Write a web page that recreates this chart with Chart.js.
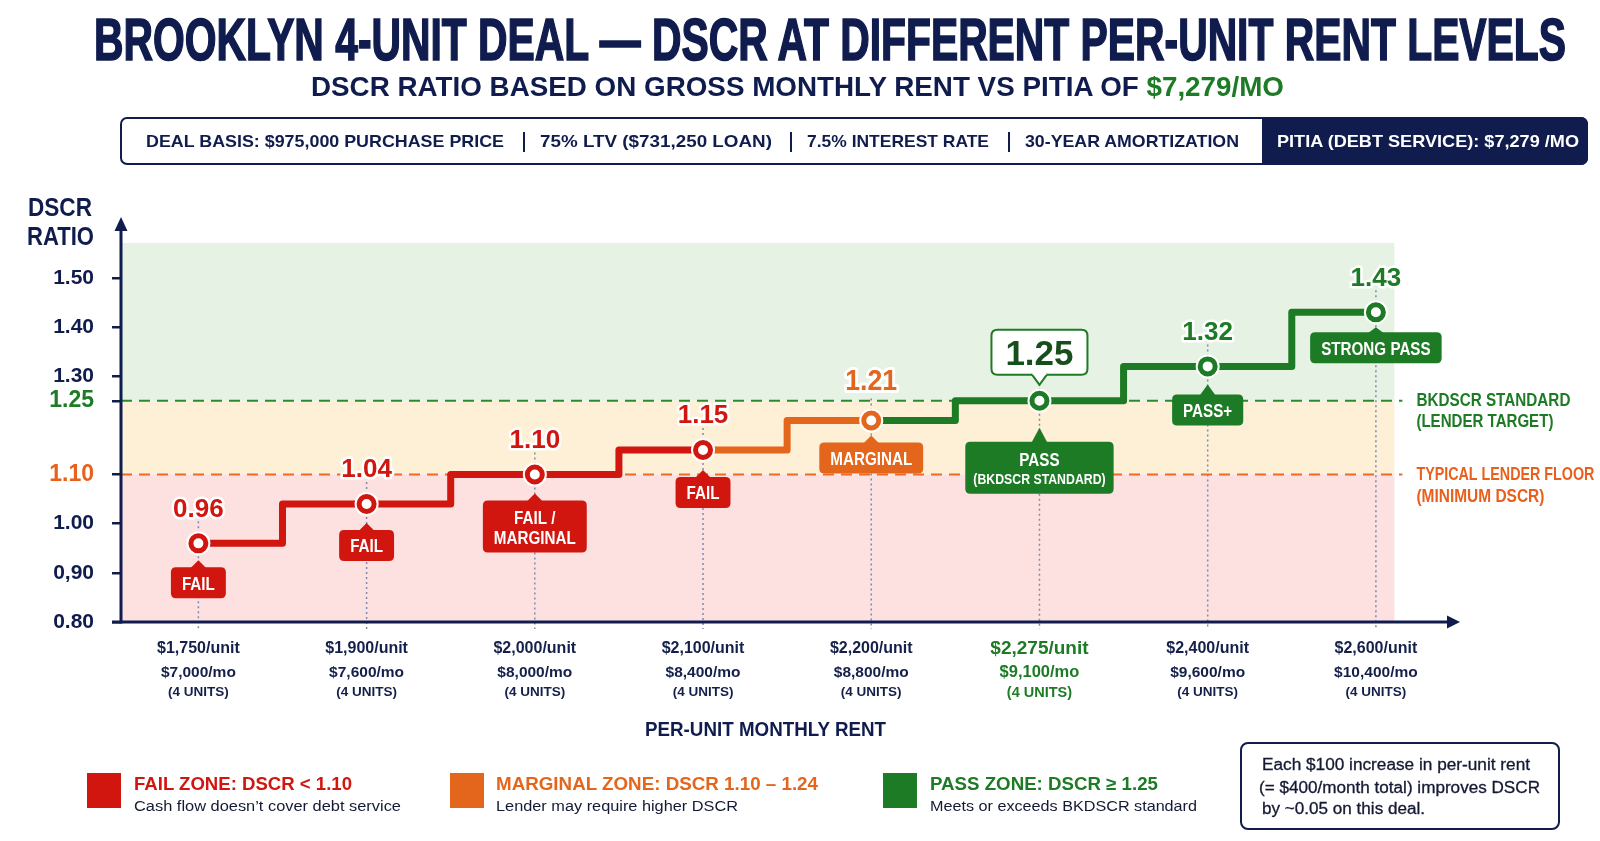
<!DOCTYPE html>
<html>
<head>
<meta charset="utf-8">
<script src="https://cdn.jsdelivr.net/npm/chart.js@4.4.1/dist/chart.umd.min.js"></script>
<style>
html,body{margin:0;padding:0;background:#fff;width:1600px;height:841px;overflow:hidden;}
#wrap{position:relative;width:1600px;height:841px;}
#c{position:absolute;left:0;top:0;}
.t{position:absolute;white-space:nowrap;font-family:"Liberation Sans",Arial,sans-serif;font-weight:bold;line-height:1;transform-origin:0 0;color:#0f1c4d;}
.n{font-weight:normal;color:#141a33;}
#infobox{position:absolute;left:120px;top:117px;width:1468px;height:48px;box-sizing:border-box;border:2px solid #0f1c4d;border-radius:7px;}
#infodark{position:absolute;left:1262px;top:117px;width:326px;height:48px;background:#0f1c4d;border-radius:0 7px 7px 0;}
.sep{position:absolute;top:132px;width:1.6px;height:20px;background:#0f1c4d;}
.sq{position:absolute;top:773px;width:34px;height:35px;}
#note{position:absolute;left:1240px;top:742px;width:320px;height:88px;box-sizing:border-box;border:2px solid #0f1c4d;border-radius:8px;}
</style>
</head>
<body>
<div id="wrap">
<canvas id="c" width="1600" height="841"></canvas>

<div class="t fit" data-x="94" data-ct="18" data-cb="60" data-w="1472" style="-webkit-text-stroke:1.6px #0f1c4d;">BROOKLYN 4-UNIT DEAL — DSCR AT DIFFERENT PER-UNIT RENT LEVELS</div>
<div class="t fit" data-x="311" data-ct="77" data-cb="97" data-w="973">DSCR RATIO BASED ON GROSS MONTHLY RENT VS PITIA OF <span style="color:#1e7b25">$7,279/MO</span></div>

<div id="infobox"></div>
<div id="infodark"></div>
<div class="t fit" data-x="146" data-ct="135.7" data-cb="147.9" data-w="358">DEAL BASIS: $975,000 PURCHASE PRICE</div>
<div class="sep" style="left:523px"></div>
<div class="t fit" data-x="540" data-ct="135.7" data-cb="147.9" data-w="232">75% LTV ($731,250 LOAN)</div>
<div class="sep" style="left:790px"></div>
<div class="t fit" data-x="807" data-ct="135.7" data-cb="147.9" data-w="182">7.5% INTEREST RATE</div>
<div class="sep" style="left:1008px"></div>
<div class="t fit" data-x="1025" data-ct="135.7" data-cb="147.9" data-w="214">30-YEAR AMORTIZATION</div>
<div class="t fit" data-x="1277" data-ct="135.7" data-cb="147.9" data-w="302" style="color:#fff">PITIA (DEBT SERVICE): $7,279 /MO</div>

<div class="t fit" data-x="28" data-ct="198" data-cb="216" data-w="64">DSCR</div>
<div class="t fit" data-x="27" data-ct="227" data-cb="245" data-w="67">RATIO</div>

<div class="t fit" data-x="645" data-ct="722" data-cb="737" data-w="241">PER-UNIT MONTHLY RENT</div>

<div class="sq" style="left:87px;background:#d0160f"></div>
<div class="t fit" data-x="134" data-ct="777" data-cb="790" data-w="218" style="color:#d0160f">FAIL ZONE: DSCR &lt; 1.10</div>
<div class="t n fit" data-x="134" data-ct="800" data-cb="811" data-w="267">Cash flow doesn’t cover debt service</div>

<div class="sq" style="left:450px;background:#e3661c"></div>
<div class="t fit" data-x="496" data-ct="777" data-cb="790" data-w="322" style="color:#e3661c">MARGINAL ZONE: DSCR 1.10 – 1.24</div>
<div class="t n fit" data-x="496" data-ct="800" data-cb="811" data-w="242">Lender may require higher DSCR</div>

<div class="sq" style="left:883px;background:#1e7b25"></div>
<div class="t fit" data-x="930" data-ct="777" data-cb="790" data-w="228" style="color:#1e7b25">PASS ZONE: DSCR ≥ 1.25</div>
<div class="t n fit" data-x="930" data-ct="800" data-cb="811" data-w="267">Meets or exceeds BKDSCR standard</div>

<div id="note"></div>
<div class="t n fit" data-x="1262" data-ct="759.3" data-cb="770.7" data-w="268" style="-webkit-text-stroke:0.3px #141a33">Each $100 increase in per-unit rent</div>
<div class="t n fit" data-x="1259" data-ct="781.8" data-cb="793.3" data-w="281" style="-webkit-text-stroke:0.3px #141a33">(= $400/month total) improves DSCR</div>
<div class="t n fit" data-x="1262" data-ct="803.5" data-cb="815" data-w="163" style="-webkit-text-stroke:0.3px #141a33">by ~0.05 on this deal.</div>
</div>

<script>
// ---------------- DATA ----------------
const perUnitRent   = ['$1,750/unit','$1,900/unit','$2,000/unit','$2,100/unit','$2,200/unit','$2,275/unit','$2,400/unit','$2,600/unit'];
const monthlyRent   = ['$7,000/mo','$7,600/mo','$8,000/mo','$8,400/mo','$8,800/mo','$9,100/mo','$9,600/mo','$10,400/mo'];
const unitCount     = ['(4 UNITS)','(4 UNITS)','(4 UNITS)','(4 UNITS)','(4 UNITS)','(4 UNITS)','(4 UNITS)','(4 UNITS)'];
const dscrValues    = [0.96, 1.04, 1.10, 1.15, 1.21, 1.25, 1.32, 1.43];
const dscrLabels    = ['0.96','1.04','1.10','1.15','1.21','1.25','1.32','1.43'];
const statusZone    = ['fail','fail','fail','fail','marginal','pass','pass','pass'];
const statusLabels  = [['FAIL'],['FAIL'],['FAIL /','MARGINAL'],['FAIL'],['MARGINAL'],['PASS','(BKDSCR STANDARD)'],['PASS+'],['STRONG PASS']];
const yTickValues   = [0.80, 0.90, 1.00, 1.10, 1.25, 1.30, 1.40, 1.50];
const yTickLabels   = ['0.80','0,90','1.00','1.10','1.25','1.30','1.40','1.50'];
const lenderFloor   = 1.10;
const bkdscrStandard = 1.25;
const floorLabel    = ['TYPICAL LENDER FLOOR','(MINIMUM DSCR)'];
const standardLabel = ['BKDSCR STANDARD','(LENDER TARGET)'];

// ---------------- STYLE ----------------
const NAVY = '#0f1c4d';
const ZONE = {fail:'#d0160f', marginal:'#e3661c', pass:'#1e7b25'};
const BAND = {fail:'#fde1e0', marginal:'#fdf0d7', pass:'#e6f2e3'};
const FONT = '"Liberation Sans", Arial, sans-serif';
const CAP = 0.72;
const badgeGap = [24,26,26,27,22,41,28,20];
const badgeTip = [7,7,7,7,7,14,10,5];
const sideLabelWidth = {standard:[154,137], floor:[178,128]};

// HTML text fitting
document.querySelectorAll('.fit').forEach(el => {
  const ct = +el.dataset.ct, cb = +el.dataset.cb, x = +el.dataset.x, w = +el.dataset.w;
  const fs = (cb - ct) / CAP;
  el.style.fontSize = fs + 'px';
  el.style.left = x + 'px';
  el.style.top = (ct - (0.8465 - CAP) * fs) + 'px';
  const nat = el.getBoundingClientRect().width;
  el.style.transform = 'scaleX(' + (w / nat) + ')';
});

Chart.defaults.font.family = FONT;

function txt(ctx, s, x, cy, size, color, o = {}) {
  ctx.save();
  ctx.font = (o.weight || 'bold') + ' ' + size + 'px ' + FONT;
  ctx.textAlign = o.align || 'center';
  ctx.textBaseline = 'alphabetic';
  const w = o.width || ctx.measureText(s).width * (o.squeeze || 1);
  const by = cy + CAP * size / 2;
  if (o.stroke) {
    ctx.lineWidth = o.stroke; ctx.strokeStyle = '#fff'; ctx.lineJoin = 'round';
    ctx.strokeText(s, x, by, w);
  }
  ctx.fillStyle = color;
  ctx.fillText(s, x, by, w);
  ctx.restore();
  return w;
}
function rrect(ctx, x, y, w, h, r) {
  ctx.beginPath();
  ctx.moveTo(x + r, y); ctx.lineTo(x + w - r, y); ctx.quadraticCurveTo(x + w, y, x + w, y + r);
  ctx.lineTo(x + w, y + h - r); ctx.quadraticCurveTo(x + w, y + h, x + w - r, y + h);
  ctx.lineTo(x + r, y + h); ctx.quadraticCurveTo(x, y + h, x, y + h - r);
  ctx.lineTo(x, y + r); ctx.quadraticCurveTo(x, y, x + r, y); ctx.closePath();
}

const bgPlugin = {
  id: 'bg',
  beforeDatasetsDraw(chart) {
    const {ctx, chartArea: a, scales: {x, y}} = chart;
    const right = x.getPixelForValue(dscrValues.length - 1 + 0.11);
    const yStd = y.getPixelForValue(bkdscrStandard), yFl = y.getPixelForValue(lenderFloor);
    ctx.save();
    ctx.fillStyle = BAND.pass; ctx.fillRect(a.left, a.top, right - a.left, yStd - a.top);
    ctx.fillStyle = BAND.marginal; ctx.fillRect(a.left, yStd, right - a.left, yFl - yStd);
    ctx.fillStyle = BAND.fail; ctx.fillRect(a.left, yFl, right - a.left, a.bottom - yFl);
    // threshold lines
    ctx.lineWidth = 2; ctx.setLineDash([11, 7]);
    ctx.strokeStyle = '#2b8a31';
    ctx.beginPath(); ctx.moveTo(a.left, yStd); ctx.lineTo(right + 8, yStd); ctx.stroke();
    ctx.strokeStyle = '#ee6a24';
    ctx.beginPath(); ctx.moveTo(a.left, yFl); ctx.lineTo(right + 8, yFl); ctx.stroke();
    // dotted guides
    ctx.setLineDash([2, 3]); ctx.lineWidth = 1.5; ctx.strokeStyle = '#7d8bb0';
    dscrValues.forEach((v, i) => {
      const px = x.getPixelForValue(i), py = y.getPixelForValue(v);
      ctx.beginPath(); ctx.moveTo(px, py - 22); ctx.lineTo(px, a.bottom + 7); ctx.stroke();
    });
    ctx.setLineDash([]);
    // axes
    ctx.strokeStyle = NAVY; ctx.fillStyle = NAVY; ctx.lineWidth = 3;
    ctx.beginPath(); ctx.moveTo(a.left, a.bottom + 1.5); ctx.lineTo(a.left, a.top - 15); ctx.stroke();
    ctx.beginPath(); ctx.moveTo(a.left, a.top - 26); ctx.lineTo(a.left - 6.5, a.top - 12); ctx.lineTo(a.left + 6.5, a.top - 12); ctx.closePath(); ctx.fill();
    ctx.beginPath(); ctx.moveTo(a.left - 9, a.bottom); ctx.lineTo(a.right - 10, a.bottom); ctx.stroke();
    ctx.beginPath(); ctx.moveTo(a.right, a.bottom); ctx.lineTo(a.right - 13, a.bottom - 6.5); ctx.lineTo(a.right - 13, a.bottom + 6.5); ctx.closePath(); ctx.fill();
    // threshold side labels
    txt(ctx, standardLabel[0], right + 22, yStd - 1, 18, ZONE.pass, {align: 'left', width: sideLabelWidth.standard[0]});
    txt(ctx, standardLabel[1], right + 22, yStd + 20, 18, ZONE.pass, {align: 'left', width: sideLabelWidth.standard[1]});
    txt(ctx, floorLabel[0], right + 22, yFl - 1, 18, '#e8601c', {align: 'left', width: sideLabelWidth.floor[0]});
    txt(ctx, floorLabel[1], right + 22, yFl + 21, 18, '#e8601c', {align: 'left', width: sideLabelWidth.floor[1]});
    ctx.restore();
  },
  afterDatasetsDraw(chart) {
    const {ctx, chartArea: a, scales: {x, y}} = chart;
    const hi = dscrValues.indexOf(bkdscrStandard);
    dscrValues.forEach((v, i) => {
      const px = x.getPixelForValue(i), py = y.getPixelForValue(v);
      const col = ZONE[statusZone[i]];
      // value label
      if (i === hi) {
        ctx.save();
        const bw = 96, bh = 45, bt = py - 71;
        rrect(ctx, px - bw / 2, bt, bw, bh, 6);
        ctx.fillStyle = '#fff'; ctx.fill();
        ctx.lineWidth = 2; ctx.strokeStyle = col; ctx.stroke();
        ctx.beginPath(); ctx.moveTo(px - 8, bt + bh - 1); ctx.lineTo(px, bt + bh + 10); ctx.lineTo(px + 8, bt + bh - 1);
        ctx.fillStyle = '#fff'; ctx.fill(); ctx.stroke();
        ctx.fillStyle = '#fff'; ctx.fillRect(px - 7, bt + bh - 3, 14, 3);
        ctx.restore();
        txt(ctx, dscrLabels[i], px, bt + bh / 2, 35, '#164f1b');
      } else if (statusZone[i] === 'marginal') {
        txt(ctx, dscrLabels[i], px, py - 41, 29, col, {stroke: 6, squeeze: 0.92});
      } else {
        txt(ctx, dscrLabels[i], px, py - 36, 26, col, {stroke: 5});
      }
      // status badge
      const lines = statusLabels[i];
      const sizes = lines.map(l => l.startsWith('(') ? 15 : 19);
      ctx.save();
      let mw = 0;
      lines.forEach((l, k) => { ctx.font = 'bold ' + sizes[k] + 'px ' + FONT; mw = Math.max(mw, ctx.measureText(l).width * (sizes[k] === 15 ? 0.82 : 0.8)); });
      const bw = mw + (lines.length > 1 && sizes[1] === 15 ? 16 : 22), bh = lines.length > 1 ? 52 : 31, top = py + badgeGap[i];
      ctx.fillStyle = col;
      rrect(ctx, px - bw / 2, top, bw, bh, 5); ctx.fill();
      ctx.beginPath(); ctx.moveTo(px - 8, top + 1); ctx.lineTo(px, top - badgeTip[i]); ctx.lineTo(px + 8, top + 1); ctx.closePath(); ctx.fill();
      ctx.restore();
      lines.forEach((l, k) => {
        const cy = lines.length > 1 ? top + 17 + k * 19.5 : top + bh / 2;
        txt(ctx, l, px, cy, sizes[k], '#fff', {squeeze: sizes[k] === 15 ? 0.82 : 0.8});
      });
      // category labels
      const isHi = i === hi;
      const c2 = isHi ? ZONE.pass : '#14204a';
      txt(ctx, perUnitRent[i], px, a.bottom + 25, isHi ? 19 : 16, c2);
      txt(ctx, monthlyRent[i], px, a.bottom + 49, isHi ? 16.5 : 15.5, c2);
      txt(ctx, unitCount[i], px, a.bottom + 69.5, isHi ? 14.5 : 13.5, c2);
    });
  }
};

const pts = dscrValues.map((v, i) => ({x: i, y: v}));

new Chart(document.getElementById('c'), {
  type: 'line',
  data: {
    datasets: [
      {label: 'markers', data: pts, showLine: false, order: 0,
       pointRadius: 7.5, pointHoverRadius: 7.5, pointBorderWidth: 5,
       pointBackgroundColor: '#fff', pointBorderColor: statusZone.map(z => ZONE[z])},
      {label: 'halo', data: pts, showLine: false, order: 1,
       pointRadius: 12, pointHoverRadius: 12, pointBorderWidth: 0, pointBackgroundColor: '#fff'},
      {label: 'DSCR', data: pts, order: 2, stepped: 'middle', borderWidth: 7, pointRadius: 0,
       fill: false, borderColor: ZONE.fail, borderJoinStyle: 'round',
       segment: {borderColor: c => ZONE[statusZone[c.p1DataIndex]]}}
    ]
  },
  options: {
    responsive: false, animation: false, events: [],
    layout: {padding: {left: 0, right: 140, top: 243, bottom: 0}},
    plugins: {legend: {display: false}, tooltip: {enabled: false}},
    scales: {
      x: {type: 'linear', min: -0.46, max: 7.5,
          ticks: {display: false}, grid: {display: false}, border: {display: false},
          afterFit: s => { s.height = 219; }},
      y: {type: 'linear', min: 0.8, max: 1.571,
          afterBuildTicks: s => { s.ticks = yTickValues.map(v => ({value: v})); },
          afterFit: s => { s.width = 121; },
          ticks: {autoSkip: false, padding: 18,
                  callback: (v, i) => yTickLabels[i],
                  color: c => c.tick && c.tick.value === bkdscrStandard ? ZONE.pass : (c.tick && c.tick.value === lenderFloor ? '#e8601c' : NAVY),
                  font: c => ({family: FONT, weight: 'bold', size: (c.tick && (c.tick.value === bkdscrStandard || c.tick.value === lenderFloor)) ? 23 : 21})},
          grid: {drawOnChartArea: false, tickLength: 9, color: NAVY, lineWidth: 2.5},
          border: {display: false}}
    }
  },
  plugins: [bgPlugin]
});
</script>
</body>
</html>
